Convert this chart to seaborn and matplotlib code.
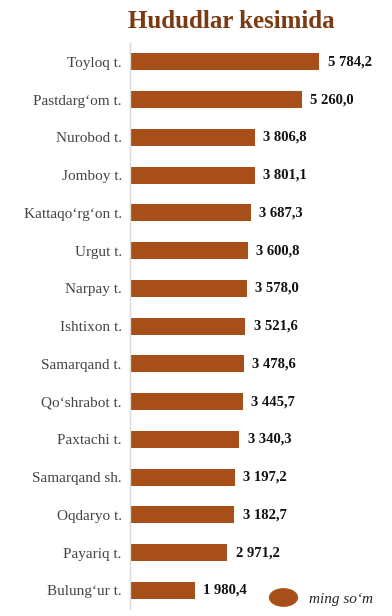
import numpy as np
import pandas as pd
import matplotlib
matplotlib.use('Agg')
import matplotlib.pyplot as plt
from matplotlib.path import Path
from matplotlib.transforms import Affine2D
from matplotlib.lines import Line2D
import seaborn as sns

regions = ["Toyloq t.", "Pastdarg\u2018om t.", "Nurobod t.", "Jomboy t.",
           "Kattaqo\u2018rg\u2018on t.", "Urgut t.", "Narpay t.", "Ishtixon t.",
           "Samarqand t.", "Qo\u2018shrabot t.", "Paxtachi t.", "Samarqand sh.",
           "Oqdaryo t.", "Payariq t.", "Bulung\u2018ur t."]
values = [5784.2, 5260.0, 3806.8, 3801.1, 3687.3, 3600.8, 3578.0, 3521.6,
          3478.6, 3445.7, 3340.3, 3197.2, 3182.7, 2971.2, 1980.4]
value_labels = ["5 784,2", "5 260,0", "3 806,8", "3 801,1", "3 687,3", "3 600,8",
                "3 578,0", "3 521,6", "3 478,6", "3 445,7", "3 340,3", "3 197,2",
                "3 182,7", "2 971,2", "1 980,4"]

bar_color = '#A84E18'
df = pd.DataFrame({'region': regions, 'value': values})

sns.set_style('white')
plt.rcParams['font.family'] = ['Liberation Serif', 'DejaVu Serif']

fig = plt.figure(figsize=(3.92, 6.16), dpi=100)
ax = fig.add_axes([0.332, 0.011, 0.668, 0.919])
sns.barplot(data=df, y='region', x='value', color=bar_color, width=0.45,
            saturation=1, linewidth=0, ax=ax)
ax.set_xlim(0, 8000)
ax.set_xlabel('')
ax.set_ylabel('')
ax.set_xticks([])
ax.tick_params(axis='y', length=0, pad=6, labelsize=11, labelcolor='#444444')
for s in ['top', 'right', 'bottom']:
    ax.spines[s].set_visible(False)
ax.spines['left'].set_color('#d9d9d9')
ax.spines['left'].set_linewidth(1)

for i, (v, lab) in enumerate(zip(values, value_labels)):
    ax.text(v + 250, i, lab, va='center', ha='left', fontsize=10.5,
            fontweight='bold', color='#111111')

fig.text(0.59, 0.965, 'Hududlar kesimida', ha='center', va='center',
         fontsize=18, fontweight='bold', color='#7B3A12')

oval = Path.unit_circle().transformed(Affine2D().scale(1.6, 1.0))
handle = Line2D([], [], marker=oval, linestyle='none', markersize=20,
                markerfacecolor=bar_color, markeredgecolor=bar_color)
leg = fig.legend([handle], ['ming so\u2018m'], loc='center',
                 bbox_to_anchor=(0.82, 0.028), frameon=False,
                 prop={'style': 'italic', 'size': 11}, handlelength=1.6,
                 handletextpad=0.9)

fig.savefig('out.png', dpi=100)
